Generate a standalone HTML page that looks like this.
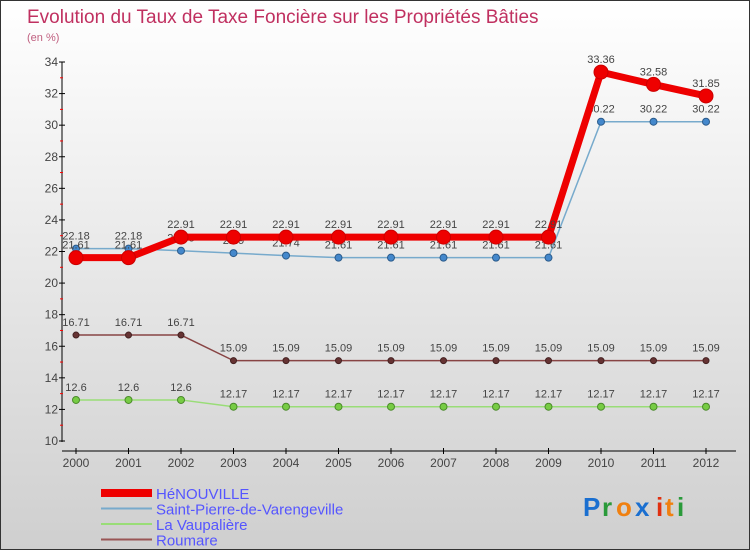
<!DOCTYPE html>
<html><head><meta charset="utf-8"><style>
body{margin:0}
#c{width:748px;height:548px;border:1px solid #333;background:linear-gradient(#ffffff,#cfcfcf);position:relative;font-family:"Liberation Sans",sans-serif;overflow:hidden}
svg text{font-family:"Liberation Sans",sans-serif}
</style></head><body>
<div id="c">
<svg id="s" width="748" height="548">
<text x="26" y="22" font-size="19" fill="#c03060">Evolution du Taux de Taxe Foncière sur les Propriétés Bâties</text>
<text x="26" y="40" font-size="11" fill="#c06080">(en %)</text>
<g id="axes"></g><g id="series"></g><g id="legend"></g>
<g font-size="26" font-weight="bold">
<text x="582" y="515" fill="#1a6fd0">P</text><text x="601" y="515" fill="#2a9a3a">r</text><text x="615" y="515" fill="#f08010">o</text><text x="634" y="515" fill="#1a6fd0">x</text><text x="655" y="515" fill="#e03010">i</text><text x="664" y="515" fill="#f08010">t</text><text x="676" y="515" fill="#2a9a3a">i</text>
</g>
</svg></div>
<script>
const years=["2000","2001","2002","2003","2004","2005","2006","2007","2008","2009","2010","2011","2012"];
const yTicks=[10,12,14,16,18,20,22,24,26,28,30,32,34];
const henouville=[21.61,21.61,22.91,22.91,22.91,22.91,22.91,22.91,22.91,22.91,33.36,32.58,31.85];
const saintPierre=[22.18,22.18,22.05,21.9,21.74,21.61,21.61,21.61,21.61,21.61,30.22,30.22,30.22];
const vaupaliere=[12.6,12.6,12.6,12.17,12.17,12.17,12.17,12.17,12.17,12.17,12.17,12.17,12.17];
const roumare=[16.71,16.71,16.71,15.09,15.09,15.09,15.09,15.09,15.09,15.09,15.09,15.09,15.09];
const NS="http://www.w3.org/2000/svg";
const X=i=>75+i*52.5;
const Y=v=>440-(v-10)*(379/24);
function mk(t,a,p){const e=document.createElementNS(NS,t);for(const k in a)e.setAttribute(k,a[k]);p.appendChild(e);return e;}
const ax=document.getElementById('axes');
const yl=mk('line',{x1:61,y1:Y(34),x2:61,y2:441,stroke:'#000'},ax);


const xl=mk('line',{x1:61,y1:450,x2:735,y2:450,stroke:'#000'},ax);


yTicks.forEach(v=>{
  mk('line',{x1:58,x2:64,y1:Y(v),y2:Y(v),stroke:'#000'},ax);
  if(v<34)mk('line',{x1:59,x2:62,y1:Y(v+1),y2:Y(v+1),stroke:'#f00'},ax);
  const t=mk('text',{x:57,y:Y(v)+4,'text-anchor':'end','font-size':12,fill:'#444'},ax);
  t.textContent=v;
  
  
});
years.forEach((y,i)=>{
  mk('line',{x1:X(i),x2:X(i),y1:447,y2:453,stroke:'#000'},ax);
  const t=mk('text',{x:X(i),y:466,'text-anchor':'middle','font-size':12,fill:'#444'},ax);
  t.textContent=y;
  
  
});
const sg=document.getElementById('series');
function series(d,color,w,r,name,labelAbove,fill,stroke){
  const g=mk('g',{},sg);
  
  
  mk('polyline',{points:d.map((v,i)=>X(i)+','+Y(v)).join(' '),fill:'none',stroke:color,'stroke-width':w,'stroke-linejoin':'round'},g);
  d.forEach((v,i)=>{
    const c=mk('circle',{cx:X(i),cy:Y(v),r:r,fill:fill,stroke:stroke,'stroke-width':1},g);
    
    
    const t=mk('text',{x:X(i),y:Y(v)+(labelAbove?-9:-9),'text-anchor':'middle','font-size':11,fill:'#444'},g);
    t.textContent=v;
    
    
  });
}
series(vaupaliere,'#99dd77',1.5,3.5,'la-vaupaliere-series',true,'#77cc44','#4a8a2a');
series(roumare,'#884444',1.5,3,'roumare-series',true,'#663333','#442222');
series(saintPierre,'#77aacc',1.5,3.5,'saint-pierre-series',true,'#4488cc','#2a5a8a');
series(henouville,'#ee0000',7,7,'henouville-series',true,'#ee0000','#cc0000');
const lg=document.getElementById('legend');
const items=[["HéNOUVILLE","#ee0000",8],["Saint-Pierre-de-Varengeville","#77aacc",2],["La Vaupalière","#99dd77",2],["Roumare","#995555",2]];
items.forEach((it,i)=>{
  const g=mk('g',{},lg);
  
  
  const y=492+i*15.5;
  mk('line',{x1:100,x2:151,y1:y,y2:y,stroke:it[1],'stroke-width':it[2]},g);
  const t=mk('text',{x:155,y:y+6,'font-size':15,fill:'#5555ff'},g);
  t.textContent=it[0];
});
</script>
</body></html>
